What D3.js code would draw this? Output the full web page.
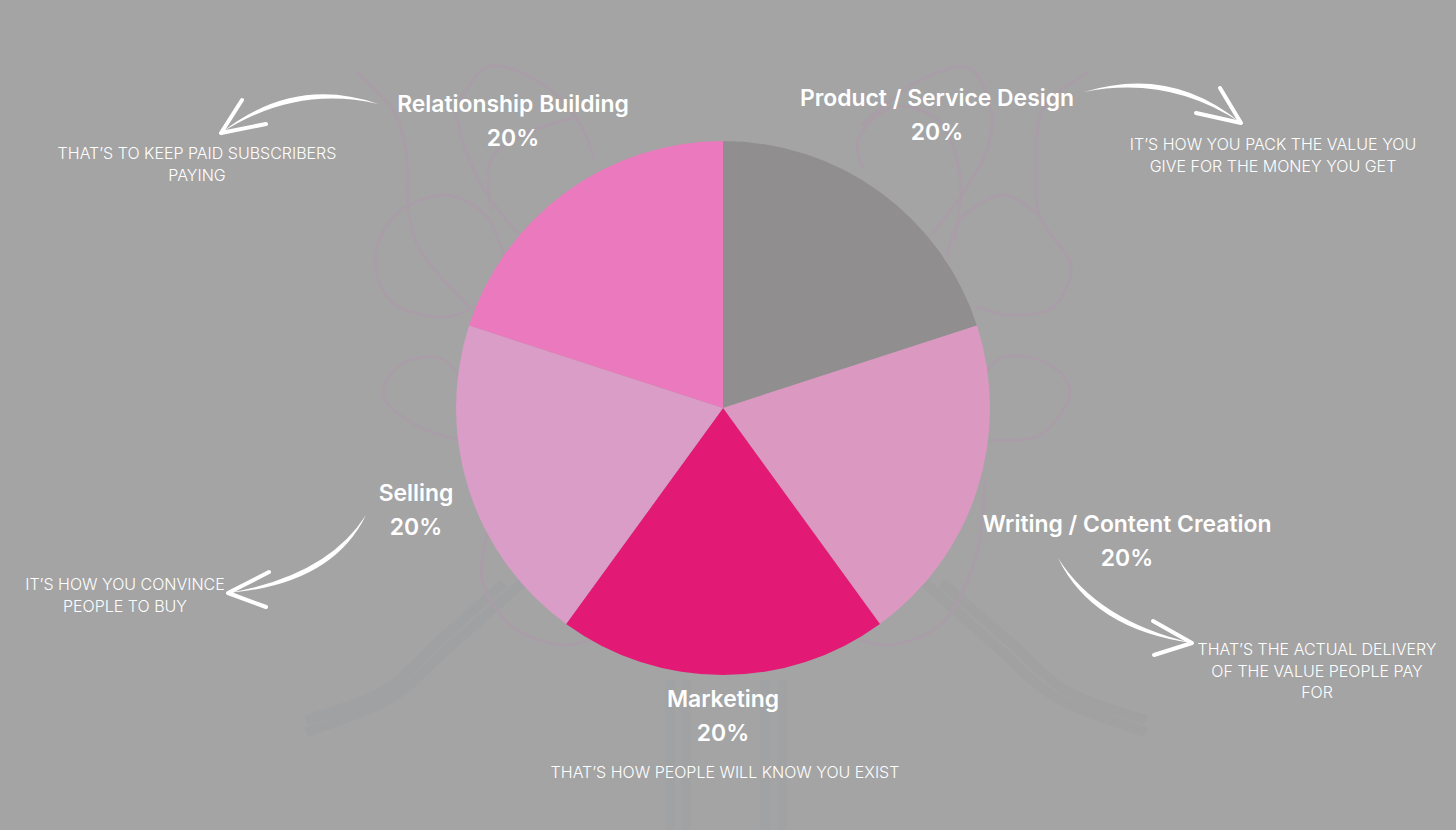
<!DOCTYPE html>
<html>
<head>
<meta charset="utf-8">
<script src="https://cdn.jsdelivr.net/npm/d3@7"></script>
<style>
  html, body { margin: 0; padding: 0; background: #a4a4a4; overflow: hidden; }
  svg { display: block; }
  text { font-family: Inter, "Open Sans", sans-serif; fill: #fff; text-anchor: middle; }
  .name { font-size: 22.9px; font-weight: 600; }
  .note { font-size: 16px; font-weight: 300; }
</style>
</head>
<body>
<script>
// data, clockwise from 12 o'clock
var categories = ["Product / Service Design", "Writing / Content Creation", "Marketing", "Selling", "Relationship Building"];
var shares = [20, 20, 20, 20, 20];
var colors = ["#918e8f", "#db98c0", "#e21a76", "#d99dc7", "#ea7abd"];
var notes = [
  ["IT\u2019S HOW YOU PACK THE VALUE YOU", "GIVE FOR THE MONEY YOU GET"],
  ["THAT\u2019S THE ACTUAL DELIVERY", "OF THE VALUE PEOPLE PAY", "FOR"],
  ["THAT\u2019S HOW PEOPLE WILL KNOW YOU EXIST"],
  ["IT\u2019S HOW YOU CONVINCE", "PEOPLE TO BUY"],
  ["THAT\u2019S TO KEEP PAID SUBSCRIBERS", "PAYING"]
];

// where the text blocks sit: [label x, label baseline, note x, note baseline]
var textSpots = [
  [937, 106, 1273, 150],
  [1127, 532, 1317, 655],
  [723, 707, 725, 778],
  [416, 501, 125, 590],
  [513, 112, 197, 159]
];

// hand drawn arrows: tail, bend, tip, two ends of the head
var arrows = [
  [[1084, 92], [1170, 70], [1241, 123], [1220, 88], [1196, 113]],
  [[1058, 558], [1095, 625], [1192, 643], [1153, 621], [1154, 655]],
  [[366, 515], [330, 580], [228, 593], [269, 572], [266, 607]],
  [[378, 104], [295, 80], [221, 133], [242, 100], [266, 124]]
];

// faint scribbles behind the pie
var scribbles = [
  [[357, 73], [393, 110], [406, 150], [408, 207], [420, 250], [470, 307]],
  [[504, 257], [487, 217], [446, 195], [393, 217], [375, 263], [393, 303], [446, 317], [473, 307]],
  [[455, 110], [469, 160], [491, 200], [518, 233]],
  [[455, 110], [487, 67], [536, 80], [576, 117], [594, 157]],
  [[491, 210], [491, 160], [527, 133], [576, 117]],
  [[1089, 72], [1044, 107], [1036, 167], [1040, 217], [1071, 267], [1053, 307], [1009, 315], [978, 307]],
  [[947, 257], [960, 220], [1004, 195], [1040, 217]],
  [[933, 233], [960, 197], [987, 150], [991, 110], [969, 68], [915, 83], [862, 125]],
  [[862, 167], [858, 140], [893, 107], [938, 120], [960, 177], [955, 240]],
  [[460, 440], [415, 425], [383, 395], [400, 365], [440, 358], [462, 380]],
  [[990, 440], [1040, 435], [1070, 390], [1045, 362], [1000, 358], [985, 375]],
  [[487, 535], [482, 580], [510, 625], [560, 645], [590, 640]],
  [[985, 480], [975, 560], [940, 625], [890, 645], [860, 640]]
];
var bands = [
  { color: "#979ca0", pts: [[522, 583], [446, 650], [393, 697], [306, 732]] },
  { color: "#979ca0", pts: [[504, 583], [440, 640], [385, 690], [306, 720]] },
  { color: "#a09b9c", pts: [[925, 583], [1000, 650], [1055, 697], [1146, 732]] },
  { color: "#a09b9c", pts: [[942, 583], [1010, 642], [1065, 690], [1146, 720]] },
  { color: "#999ea1", pts: [[670, 680], [670, 830]] },
  { color: "#999ea1", pts: [[686, 680], [686, 830]] },
  { color: "#999ea1", pts: [[765, 680], [765, 830]] },
  { color: "#999ea1", pts: [[782, 680], [782, 830]] }
];

var width = 1456, height = 830;
var cx = 723, cy = 408, radius = 267;

var svg = d3.select("body").append("svg")
  .attr("width", width)
  .attr("height", height);

svg.append("rect")
  .attr("width", width)
  .attr("height", height)
  .attr("fill", "#a4a4a4");

var curve = d3.line().curve(d3.curveCatmullRom.alpha(0.5));

svg.append("g").selectAll("path")
  .data(bands)
  .enter()
  .append("path")
  .attr("d", function(d) { return curve(d.pts); })
  .attr("fill", "none")
  .attr("stroke", function(d) { return d.color; })
  .attr("stroke-width", 10)
  .attr("opacity", 0.3);

svg.append("g").selectAll("path")
  .data(scribbles)
  .enter()
  .append("path")
  .attr("d", curve)
  .attr("fill", "none")
  .attr("stroke", "#a99ea7")
  .attr("stroke-width", 3)
  .attr("stroke-linecap", "round");

// the pie
var pie = d3.pie().sort(null).value(function(d) { return d; });
var arc = d3.arc().innerRadius(0).outerRadius(radius);

svg.append("g")
  .attr("transform", "translate(" + cx + "," + cy + ")")
  .selectAll("path")
  .data(pie(shares))
  .enter()
  .append("path")
  .attr("d", arc)
  .attr("fill", function(d, i) { return colors[i]; });

// arrows: a shaft that gets fatter towards the head, then two strokes for the head
var arrowGroup = svg.append("g").selectAll("g")
  .data(arrows)
  .enter()
  .append("g");

arrowGroup.append("path")
  .attr("fill", "#fff")
  .attr("d", function(a) {
    var tail = a[0], bend = a[1], tip = a[2];
    var dx = tip[0] - tail[0], dy = tip[1] - tail[1];
    var len = Math.sqrt(dx * dx + dy * dy);
    var nx = -dy / len * 5, ny = dx / len * 5;
    var p = d3.path();
    p.moveTo(tail[0], tail[1]);
    p.quadraticCurveTo(bend[0] + nx, bend[1] + ny, tip[0], tip[1]);
    p.quadraticCurveTo(bend[0] - nx, bend[1] - ny, tail[0], tail[1]);
    p.closePath();
    return p.toString();
  });

arrowGroup.append("path")
  .attr("fill", "none")
  .attr("stroke", "#fff")
  .attr("stroke-width", 4)
  .attr("stroke-linecap", "round")
  .attr("stroke-linejoin", "round")
  .attr("d", function(a) { return d3.line()([a[3], a[2], a[4]]); });

// labels and notes
var blocks = svg.append("g").selectAll("g")
  .data(categories)
  .enter()
  .append("g");

blocks.append("text")
  .attr("class", "name")
  .attr("x", function(d, i) { return textSpots[i][0]; })
  .attr("y", function(d, i) { return textSpots[i][1]; })
  .text(function(d) { return d; });

blocks.append("text")
  .attr("class", "name")
  .attr("x", function(d, i) { return textSpots[i][0]; })
  .attr("y", function(d, i) { return textSpots[i][1] + 34; })
  .text(function(d, i) { return shares[i] + "%"; });

blocks.each(function(d, i) {
  d3.select(this).selectAll("text.note")
    .data(notes[i])
    .enter()
    .append("text")
    .attr("class", "note")
    .attr("x", textSpots[i][2])
    .attr("y", function(line, j) { return textSpots[i][3] + j * 21.5; })
    .text(function(line) { return line; });
});
</script>
</body>
</html>
